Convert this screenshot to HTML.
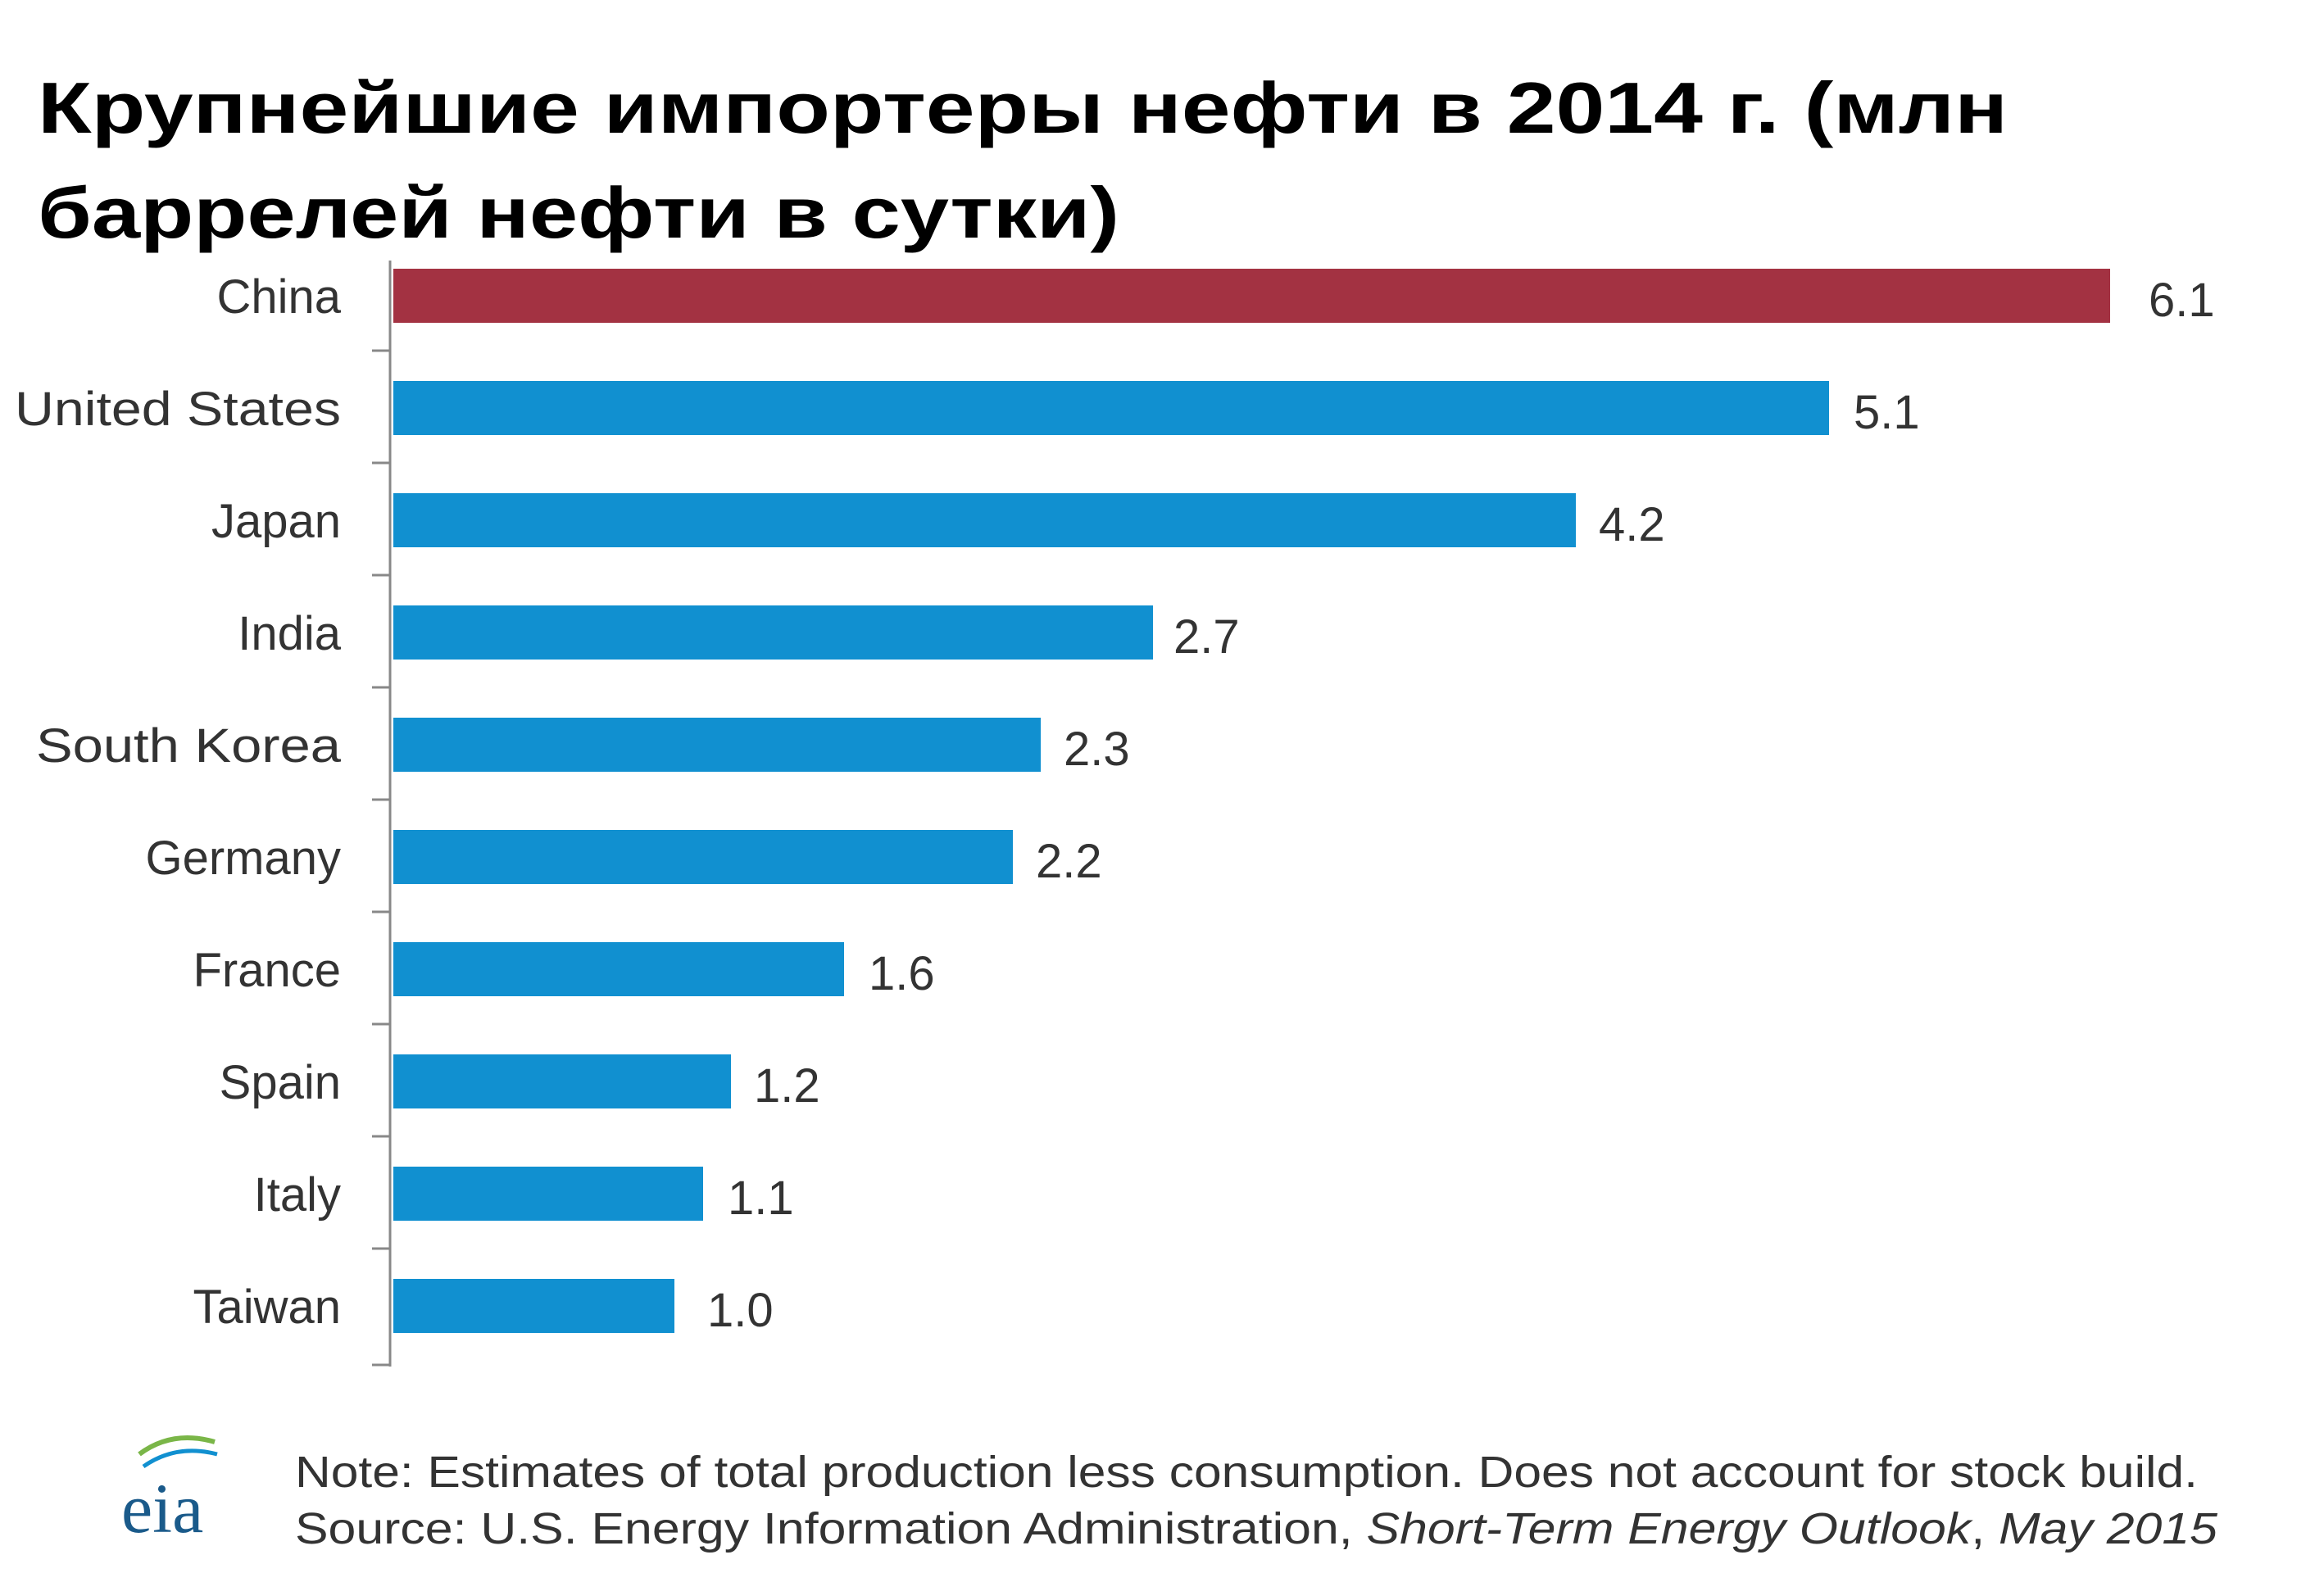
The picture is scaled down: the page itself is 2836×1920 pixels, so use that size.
<!DOCTYPE html>
<html><head><meta charset="utf-8"><style>
html,body{margin:0;padding:0;background:#fff;}
svg{display:block;}
</style></head><body>
<svg width="2836" height="1920" viewBox="0 0 2836 1920" xmlns="http://www.w3.org/2000/svg">
<rect width="2836" height="1920" fill="#fff"/>
<g font-family="'Liberation Sans', sans-serif" font-weight="bold" font-size="88" fill="#000">
<text x="46" y="162" textLength="2404" lengthAdjust="spacingAndGlyphs">Крупнейшие импортеры нефти в 2014 г. (млн</text>
<text x="46" y="290" textLength="1320" lengthAdjust="spacingAndGlyphs">баррелей нефти в сутки)</text>
</g>
<line x1="476" y1="318" x2="476" y2="1668" stroke="#888" stroke-width="3"/>
<g stroke="#888" stroke-width="3">
<line x1="454" y1="428" x2="476" y2="428"/><line x1="454" y1="565" x2="476" y2="565"/>
<line x1="454" y1="702" x2="476" y2="702"/><line x1="454" y1="839" x2="476" y2="839"/>
<line x1="454" y1="976" x2="476" y2="976"/><line x1="454" y1="1113" x2="476" y2="1113"/>
<line x1="454" y1="1250" x2="476" y2="1250"/><line x1="454" y1="1387" x2="476" y2="1387"/>
<line x1="454" y1="1524" x2="476" y2="1524"/><line x1="454" y1="1666" x2="476" y2="1666"/>
</g>
<g>
<rect x="480" y="328" width="2095" height="66" fill="#a33242"/>
<rect x="480" y="465" width="1752" height="66" fill="#1190d0"/>
<rect x="480" y="602" width="1443" height="66" fill="#1190d0"/>
<rect x="480" y="739" width="927" height="66" fill="#1190d0"/>
<rect x="480" y="876" width="790" height="66" fill="#1190d0"/>
<rect x="480" y="1013" width="756" height="66" fill="#1190d0"/>
<rect x="480" y="1150" width="550" height="66" fill="#1190d0"/>
<rect x="480" y="1287" width="412" height="66" fill="#1190d0"/>
<rect x="480" y="1424" width="378" height="66" fill="#1190d0"/>
<rect x="480" y="1561" width="343" height="66" fill="#1190d0"/>
</g>
<g font-family="'Liberation Sans', sans-serif" font-size="58" fill="#333" text-anchor="end">
<text x="416" y="382">China</text>
<text x="416" y="519" textLength="398" lengthAdjust="spacingAndGlyphs">United States</text>
<text x="416" y="656">Japan</text>
<text x="416" y="793">India</text>
<text x="416" y="930" textLength="372" lengthAdjust="spacingAndGlyphs">South Korea</text>
<text x="416" y="1067">Germany</text>
<text x="416" y="1204">France</text>
<text x="416" y="1341">Spain</text>
<text x="416" y="1478">Italy</text>
<text x="416" y="1615">Taiwan</text>
</g>
<g font-family="'Liberation Sans', sans-serif" font-size="58" fill="#333">
<text x="2622" y="386">6.1</text>
<text x="2262" y="523">5.1</text>
<text x="1951" y="660">4.2</text>
<text x="1432" y="797">2.7</text>
<text x="1298" y="934">2.3</text>
<text x="1264" y="1071">2.2</text>
<text x="1060" y="1208">1.6</text>
<text x="920" y="1345">1.2</text>
<text x="888" y="1482">1.1</text>
<text x="863" y="1619">1.0</text>
</g>
<g>
<path d="M170 1775 Q210 1745 262 1760" stroke="#7ab648" stroke-width="6" fill="none"/>
<path d="M175 1790 Q215 1762 265 1775" stroke="#1190d0" stroke-width="5" fill="none"/>
<text x="148" y="1870" font-family="'Liberation Serif', serif" font-size="86" fill="#1a5a8a">eia</text>
</g>
<g font-family="'Liberation Sans', sans-serif" font-size="54" fill="#333">
<text x="360" y="1815" textLength="2322" lengthAdjust="spacingAndGlyphs">Note: Estimates of total production less consumption. Does not account for stock build.</text>
<text x="360" y="1884" textLength="2346" lengthAdjust="spacingAndGlyphs">Source: U.S. Energy Information Administration, <tspan font-style="italic">Short-Term Energy Outlook</tspan>, <tspan font-style="italic">May 2015</tspan></text>
</g>
</svg>
</body></html>
